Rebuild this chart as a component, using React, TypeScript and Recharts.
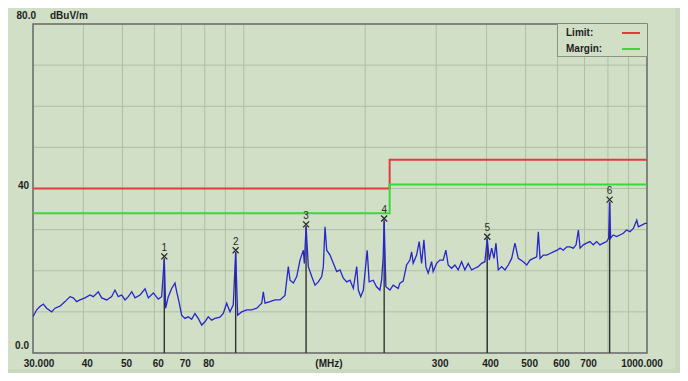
import React from 'react';
import {
  ComposedChart,
  Line,
  Scatter,
  XAxis,
  YAxis,
  CartesianGrid,
  ReferenceArea
} from 'recharts';

// axis ticks (grid) and the labels shown under / beside them
const freqTicks = [30, 40, 50, 60, 70, 80, 90, 100, 200, 300, 400, 500, 600, 700, 800, 900, 1000];
const freqLabels: { [k: number]: string } = {
  30: '30.000', 40: '40', 50: '50', 60: '60', 70: '70', 80: '80',
  300: '300', 400: '400', 500: '500', 600: '600', 700: '700', 1000: '1000.000'
};
const levelTicks = [0, 10, 20, 30, 40, 50, 60, 70, 80];
const levelLabels: { [k: number]: string } = { 0: '0.0', 40: '40', 80: '80.0' };

// limit / margin lines (dBuV/m)
const limitFreq = [30, 230, 1000];
const limitLevel = [40, 47, 47];
const marginLevel = [34, 41, 41];

// measured trace, MHz
const traceFreq = [
  30.0, 30.64, 31.22, 31.82, 32.44, 33.38, 34.02, 35.0, 36.02, 37.06, 37.76, 38.5, 39.24,
  40.37, 41.54, 42.33, 43.55, 44.41, 45.7, 47.02, 47.91, 48.82, 49.78,
  50.75, 51.71, 52.73, 53.73, 55.29, 56.89, 57.97, 59.65,
  61.35, 62.55, 63.5, 64.0, 64.96, 66.23, 67.49, 68.15, 69.05,
  70.12, 71.45, 72.81, 74.24, 75.65, 77.09, 78.61,
  80.09, 81.62, 83.22, 84.8, 87.26, 88.92,
  90.67, 92.4, 94.15, 95.45, 96.55, 98.78,
  101.67, 104.62, 107.65, 110.77, 111.78, 112.87, 116.14, 119.51, 122.97, 126.5, 128.94,
  130.2, 132.68, 135.28, 137.85, 140.47, 141.28, 142.7, 144.54, 147.38, 150.18, 153.04,
  156.04, 157.47, 159.01, 160.56, 163.62, 166.73, 170.0, 173.23, 176.53, 179.99, 183.42,
  186.91, 190.57, 192.32, 194.98, 197.89,
  202.3, 204.6, 209.35, 213.46, 217.52, 219.64, 221.66, 222.9, 225.1, 230.3, 234.69,
  241.49, 243.85, 248.49, 253.36, 258.18, 260.7, 263.09, 268.25, 272.26, 276.02, 279.67,
  282.88, 286.63, 292.25, 294.93,
  300.7, 306.41, 312.24, 317.09, 321.28, 327.58, 333.81, 340.17, 346.84, 353.44, 360.15,
  367.23, 374.21, 381.34, 388.81, 396.21,
  401.6, 406.2, 411.8, 417.3, 422.1, 427.6, 436.0, 444.3, 452.8, 461.7, 470.4, 479.4, 493.3,
  503.1, 512.7, 522.5, 532.7, 537.6, 542.9, 553.2, 564.0, 574.8, 585.7, 599.0,
  608.6, 620.2, 632.4, 644.4, 656.7, 666.9, 675.7, 682.3, 695.3,
  708.4, 721.9, 735.7, 750.1, 764.4, 778.9, 794.2,
  803.2, 807.8, 812.4, 824.6, 840.8, 856.8, 873.1, 890.2,
  907.7, 925.0, 943.2, 951.8, 970.5, 988.9, 1000
];
// measured trace, dBuV/m
const traceLevel = [
  8.8, 10.5, 11.3, 11.9, 10.9, 10.0, 10.9, 11.4, 12.5, 13.7, 13.4, 12.5, 12.9,
  13.4, 14.1, 13.7, 14.9, 13.4, 12.9, 13.7, 15.3, 13.7, 14.1,
  12.9, 13.7, 14.9, 13.4, 14.1, 15.6, 13.4, 14.6,
  13.1, 13.7, 23.0, 10.9, 13.7, 15.7, 17.0, 14.9, 12.5,
  9.2, 8.4, 8.8, 8.2, 9.6, 8.4, 6.8,
  7.6, 8.8, 8.0, 8.4, 8.7, 9.6,
  12.1, 10.0, 11.7, 24.5, 9.2, 10.0,
  10.5, 10.5, 10.9, 12.1, 14.9, 12.1, 12.5, 12.9, 12.9, 14.0, 21.0,
  17.7, 17.0, 18.6, 22.6, 25.0, 21.8, 30.8, 21.0, 18.6, 16.5, 17.3,
  18.6, 21.0, 30.7, 25.0, 23.8, 21.8, 19.8, 20.2, 18.2, 17.3, 17.7,
  15.7, 21.0, 15.3, 13.7, 15.3,
  25.0, 17.3, 17.7, 16.1, 15.3, 17.7, 23.4, 32.2, 16.1, 15.3, 16.5,
  15.7, 17.0, 17.5, 21.4, 22.6, 24.6, 21.8, 23.8, 27.1, 21.8, 27.5,
  21.0, 19.4, 22.2, 19.8,
  21.8, 22.6, 22.6, 25.0, 21.4, 20.6, 21.4, 20.2, 22.2, 20.2, 21.8,
  20.2, 20.6, 21.0, 21.8, 22.2,
  27.8, 22.6, 25.5, 23.0, 26.7, 20.2, 21.0, 20.2, 21.4, 23.0, 26.7, 23.0, 22.2,
  21.4, 22.6, 23.0, 23.4, 29.5, 23.0, 23.8, 23.8, 24.2, 24.6, 25.0,
  25.5, 25.0, 25.8, 25.8, 25.5, 26.3, 29.9, 25.5, 26.3,
  26.7, 27.1, 26.3, 27.1, 26.3, 26.7, 27.1,
  27.9, 36.8, 27.9, 28.7, 28.3, 28.7, 29.1, 29.9,
  29.5, 30.3, 32.3, 30.7, 31.1, 31.5, 31.5
];

// peak markers
const markerNo = [1, 2, 3, 4, 5, 6];
const markerFreq = [63.5, 95.45, 142.7, 222.9, 401.6, 807.8];
const markerLevel = [23.0, 24.5, 30.8, 32.2, 27.8, 36.8];

const trace = traceFreq.map((f, i) => ({ freq: f, level: traceLevel[i] }));
const limit = limitFreq.map((f, i) => ({ freq: f, level: limitLevel[i] }));
const margin = limitFreq.map((f, i) => ({ freq: f, level: marginLevel[i] }));
const markers = markerNo.map((n, i) => ({ no: n, freq: markerFreq[i], level: markerLevel[i] }));

const LIMIT_COLOR = '#e03c3c';
const MARGIN_COLOR = '#3ad83a';
const TRACE_COLOR = '#2626cc';

const labelFont: React.CSSProperties = {
  fontFamily: '"Liberation Sans", Arial, sans-serif',
  fontSize: 10,
  fontWeight: 'bold',
  fill: '#1e1e1e'
};

const FreqTick = (props: any) => {
  const { x, y, payload } = props;
  const text = freqLabels[payload.value];
  if (!text) return <g />;
  let dx = 4;
  if (payload.value === 30) dx = 6;
  if (payload.value === 1000) dx = -5;
  return (
    <text x={x + dx} y={y + 10} textAnchor="middle" dominantBaseline="central" style={labelFont}>
      {text}
    </text>
  );
};

const LevelTick = (props: any) => {
  const { x, y, payload } = props;
  const text = levelLabels[payload.value];
  if (!text) return <g />;
  if (payload.value === 80) {
    return (
      <g>
        <text x={x + 3} y={y - 9} textAnchor="end" dominantBaseline="central" style={labelFont}>
          {text}
        </text>
        <text x={x + 17} y={y - 9} textAnchor="start" dominantBaseline="central" style={labelFont}>
          dBuV/m
        </text>
      </g>
    );
  }
  const dy = payload.value === 0 ? -8 : -3;
  return (
    <text x={x - 4} y={y + dy} textAnchor="end" dominantBaseline="central" style={labelFont}>
      {text}
    </text>
  );
};

const MarkerShape = (props: any) => {
  const { cx, cy, payload } = props;
  const mx = cx;
  const my = cy - 2;
  return (
    <g>
      <path
        d={`M${mx - 3},${my - 3}L${mx + 3},${my + 3}M${mx + 3},${my - 3}L${mx - 3},${my + 3}`}
        stroke="#2a2a2a"
        strokeWidth={1.3}
        fill="none"
      />
      <text
        x={mx}
        y={my - 9}
        textAnchor="middle"
        dominantBaseline="central"
        style={{ fontFamily: '"Liberation Sans", Arial, sans-serif', fontSize: 10, fill: '#2a2a2a' }}
      >
        {payload.no}
      </text>
    </g>
  );
};

const App: React.FC = () => {
  return (
    <div
      style={{
        position: 'relative',
        width: 688,
        height: 381,
        margin: -8,
        background: '#c8d8bd',
        overflow: 'hidden'
      }}
    >
      <div
        style={{
          position: 'absolute',
          left: 3,
          top: 3,
          width: 671,
          height: 365,
          background: '#d0dfc6',
          borderTop: '1px solid #e2eddb',
          borderLeft: '1px solid #e2eddb'
        }}
      />
      <div style={{ position: 'absolute', left: 0, top: 0 }}>
        <ComposedChart
          width={688}
          height={381}
          data={trace}
          margin={{ top: 24, right: 41, bottom: 8, left: 0 }}
        >
          <CartesianGrid stroke="#afbfa5" strokeWidth={1} />
          <XAxis
            dataKey="freq"
            type="number"
            scale="log"
            domain={[30, 1000]}
            ticks={freqTicks}
            allowDataOverflow
            height={20}
            tickSize={0}
            tickMargin={0}
            axisLine={false}
            tickLine={false}
            tick={<FreqTick />}
            interval={0}
            label={{
              content: (p: any) => (
                <text
                  x={p.viewBox.x + p.viewBox.width * 0.482}
                  y={p.viewBox.y + 10}
                  textAnchor="middle"
                  dominantBaseline="central"
                  style={labelFont}
                >
                  (MHz)
                </text>
              )
            }}
          />
          <YAxis
            type="number"
            domain={[0, 80]}
            ticks={levelTicks}
            width={33}
            tickSize={0}
            tickMargin={0}
            axisLine={false}
            tickLine={false}
            tick={<LevelTick />}
            interval={0}
          />
          {markers.map((m) => (
            <Line
              key={'drop' + m.no}
              data={[
                { freq: m.freq, level: 0 },
                { freq: m.freq, level: m.level }
              ]}
              dataKey="level"
              stroke="#333333"
              strokeWidth={1.4}
              dot={false}
              legendType="none"
              isAnimationActive={false}
            />
          ))}
          <Line
            dataKey="level"
            name="trace"
            stroke={TRACE_COLOR}
            strokeWidth={1.3}
            dot={false}
            isAnimationActive={false}
          />
          <Line
            data={limit}
            dataKey="level"
            name="Limit"
            type="stepAfter"
            stroke={LIMIT_COLOR}
            strokeWidth={2}
            dot={false}
            isAnimationActive={false}
          />
          <Line
            data={margin}
            dataKey="level"
            name="Margin"
            type="stepAfter"
            stroke={MARGIN_COLOR}
            strokeWidth={2}
            dot={false}
            isAnimationActive={false}
          />
          <Scatter
            data={markers}
            dataKey="level"
            shape={<MarkerShape />}
            isAnimationActive={false}
          />
          <ReferenceArea
            x1={30}
            x2={1000}
            y1={0}
            y2={80}
            fill="none"
            fillOpacity={0}
            stroke="#6c6c6c"
            strokeWidth={1.5}
            ifOverflow="visible"
          />
        </ComposedChart>
      </div>

      {/* legend box, top right of the plot */}
      <div
        style={{
          position: 'absolute',
          left: 557,
          top: 24,
          width: 89,
          height: 32,
          background: '#d0dfc6',
          borderLeft: '1px solid #8a9482',
          borderBottom: '1px solid #8a9482',
          fontFamily: '"Liberation Sans", Arial, sans-serif',
          fontSize: 10,
          fontWeight: 'bold',
          color: '#1e1e1e'
        }}
      >
        <div style={{ position: 'absolute', left: 8, top: 3 }}>Limit:</div>
        <div style={{ position: 'absolute', left: 64, top: 8, width: 18, height: 2, background: LIMIT_COLOR }} />
        <div style={{ position: 'absolute', left: 8, top: 19 }}>Margin:</div>
        <div style={{ position: 'absolute', left: 64, top: 24, width: 18, height: 2, background: MARGIN_COLOR }} />
      </div>
    </div>
  );
};

export default App;
